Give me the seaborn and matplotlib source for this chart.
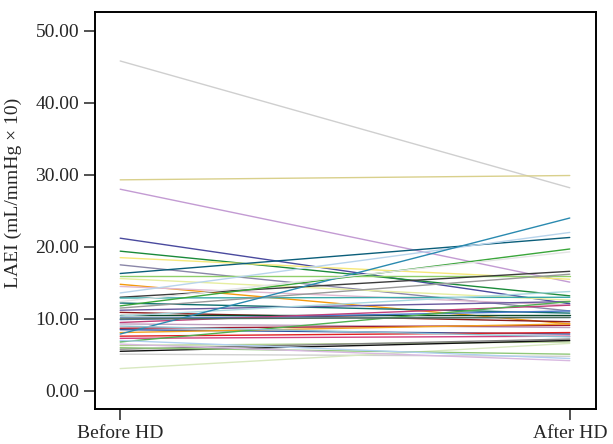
import pandas as pd
import matplotlib
matplotlib.use("Agg")
import matplotlib.pyplot as plt
import seaborn as sns

# LAEI per patient, before and after haemodialysis
before_hd = [45.8, 29.3, 28.0, 21.2, 19.4, 18.5, 17.5, 16.3, 15.9, 15.6,
             14.8, 14.5, 13.6, 13.0, 12.9, 12.2, 11.8, 11.5, 11.2, 10.9,
             10.6, 10.4, 10.2, 9.9, 9.5, 9.3, 8.7, 8.5, 8.1, 7.9,
             7.6, 7.3, 6.8, 6.3, 5.8, 5.5, 5.1, 3.1, 12.4, 6.0,
             7.0, 6.5, 10.0, 9.0]
after_hd = [28.2, 29.9, 15.1, 12.1, 13.2, 15.5, 11.1, 21.3, 15.9, 12.6,
            9.3, 11.9, 22.0, 16.6, 13.0, 10.8, 19.7, 16.2, 12.4, 9.6,
            10.6, 13.8, 10.2, 11.1, 11.9, 8.8, 9.1, 7.9, 9.3, 24.0,
            8.1, 7.6, 12.4, 6.8, 7.2, 7.0, 4.8, 6.6, 19.3, 5.1,
            4.5, 4.2, 10.2, 7.5]
line_colors = ["#cfcfcf", "#d9d08c", "#c39bd3", "#4a4a9e", "#1a8a3a", "#f5e87a",
               "#8a86a8", "#0b5e7a", "#8fcf6a", "#e6eea0", "#f59a0c", "#e0b8d0",
               "#b8d4ec", "#3c3c3c", "#3aa8a8", "#0e6e6e", "#3aa63a", "#999999",
               "#6a5aa0", "#8b1a1a", "#0a4a2a", "#a8d8e0", "#7090b0", "#4878c8",
               "#c0407a", "#c0a0c0", "#a01830", "#3050a0", "#f0a020", "#2a8ab0",
               "#e02020", "#d04080", "#50b050", "#b0d090", "#808080", "#111111",
               "#d0d0d0", "#d8e8c0", "#e4e4e4", "#90c878", "#b0d0f0", "#d8b8e0",
               "#507060", "#90c0d0"]
time_labels = ["Before HD", "After HD"]
y_ticks = [0, 10, 20, 30, 40, 50]

n = len(before_hd)
df = pd.DataFrame({
    "id": list(range(n)) * 2,
    "time": [time_labels[0]] * n + [time_labels[1]] * n,
    "laei": before_hd + after_hd,
})

sns.set_style("ticks")
plt.rcParams["font.family"] = ["Liberation Serif", "DejaVu Serif"]

fig = plt.figure(figsize=(6.13, 4.44), dpi=100)
ax = fig.add_axes([0.155, 0.079, 0.817, 0.894])

sns.lineplot(data=df, x="time", y="laei", hue="id", palette=line_colors,
             legend=False, linewidth=1.0, ax=ax)

ax.set_xlim(-0.056, 1.058)
ax.set_ylim(-2.5, 52.6)
ax.set_yticks(y_ticks)
ax.set_yticklabels([f"{v:.2f}" for v in y_ticks])
ax.set_xlabel("")
ax.set_ylabel("LAEI (mL/mmHg \u00d7 10)", fontsize=14)
ax.yaxis.set_label_coords(-0.146, 0.544)

for s in ax.spines.values():
    s.set_visible(True)
    s.set_color("black")
    s.set_linewidth(1.4)
ax.tick_params(axis="both", labelsize=14, length=8, width=1.2, color="#333333")

fig.savefig("out.png", dpi=100)
